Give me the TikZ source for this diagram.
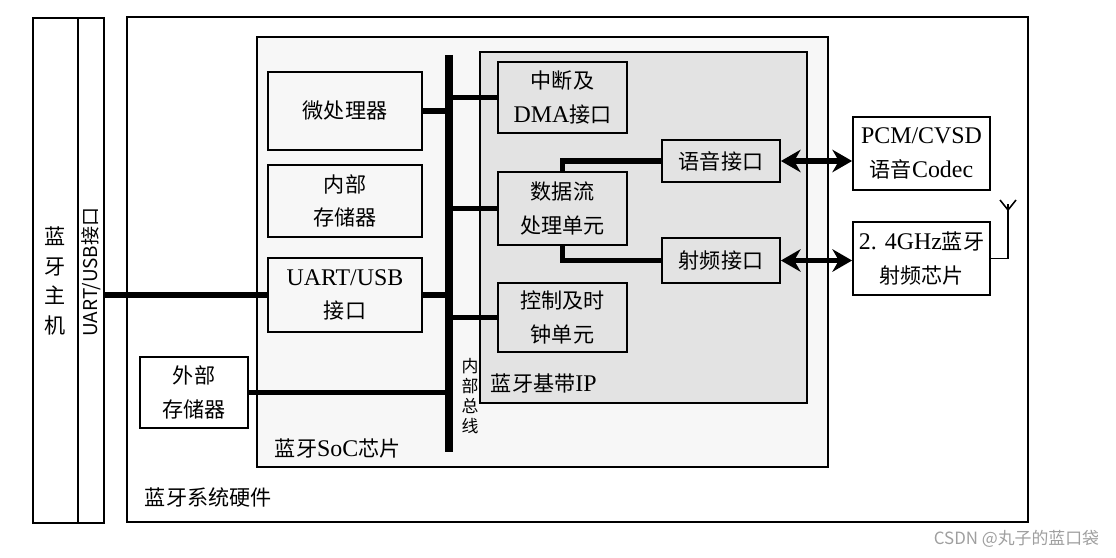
\documentclass[tikz,border=0pt]{standalone}
\usepackage{fontspec}
\setmainfont{Noto Sans CJK SC}
\newfontfamily\en{Liberation Serif}
\usetikzlibrary{arrows.meta,fit}

\tikzset{
	frame/.style={draw, line width=1.1pt, inner sep=0pt},
	unit/.style={draw, line width=1.3pt, inner sep=0pt},
	ipunit/.style={unit, fill=gray!22},
	socunit/.style={unit, fill=gray!6},
	txt/.style={align=center, inner sep=0pt, font=\fontsize{15}{24}\selectfont},
	tag/.style={anchor=west, font=\fontsize{15}{18}\selectfont},
	link/.style={line width=4pt},
	duplex/.style={line width=4pt, {Stealth[length=14pt,width=16pt]}-{Stealth[length=14pt,width=16pt]}},
}
\newcommand\lat[1]{{\en\fontsize{17}{24}\selectfont #1}}

\begin{document}
\begin{tikzpicture}[x=0.025cm,y=-0.025cm]
	\useasboundingbox (0,0) rectangle (1116,558);
	% host side
	\node[frame, fit={(33,18)(78,523)}] (host) {};
	\node[frame, fit={(78,18)(104,523)}] (hostport) {};
	\node[align=center, font=\fontsize{15}{21}\selectfont] (hostlabel) at (55,281) {蓝\\牙\\主\\机};
	\node[rotate=90, font=\fontsize{13.5}{15}\selectfont] (portlabel) at (91,272) {UART/USB接口};
	% containers
	\node[frame, fit={(127,17)(1028,522)}] (hw) {};
	\node[frame, fill=gray!6, fit={(257,37)(828,467)}] (soc) {};
	\node[frame, line width=1.3pt, fill=gray!22, fit={(480,52)(807,403)}] (ip) {};
	\node[tag] (hwlabel) at (140,497) {蓝牙系统硬件};
	\node[tag] (soclabel) at (270,448) {蓝牙\lat{SoC}芯片};
	\node[tag] (iplabel) at (486,383) {蓝牙基带\lat{IP}};
	% SoC units
	\node[socunit, fit={(268,72)(422,150)}] (cpu) {};
	\node[socunit, fit={(268,165)(422,237)}] (iram) {};
	\node[socunit, fit={(268,258)(422,332)}] (uart) {};
	\node[unit, fill=white, fit={(140,357)(248,428)}] (xram) {};
	\node[txt] at (cpu) {微处理器};
	\node[txt] at (iram) {内部\\存储器};
	\node[txt] at (uart) {\lat{UART/USB}\\接口};
	\node[txt] at (xram) {外部\\存储器};
	% baseband units
	\node[ipunit, fit={(498,62)(627,133)}] (dma) {};
	\node[ipunit, fit={(498,172)(627,245)}] (flow) {};
	\node[ipunit, fit={(498,283)(627,352)}] (clk) {};
	\node[ipunit, fit={(662,140)(780,182)}] (voice) {};
	\node[ipunit, fit={(662,238)(780,283)}] (rfif) {};
	\node[txt] at (dma) {中断及\\\lat{DMA}接口};
	\node[txt] at (flow) {数据流\\处理单元};
	\node[txt] at (clk) {控制及时\\钟单元};
	\node[txt] at (voice) {语音接口};
	\node[txt] at (rfif) {射频接口};
	% external chips
	\node[unit, fill=white, fit={(853,117)(990,190)}] (codec) {};
	\node[unit, fill=white, fit={(853,222)(990,295)}] (rfchip) {};
	\node[txt] at (codec) {\lat{PCM/CVSD}\\语音\lat{Codec}};
	\node[txt] at (rfchip) {\lat{2. 4GHz}蓝牙\\射频芯片};
	% internal bus
	\coordinate (bustop) at (449,55);
	\coordinate (busbot) at (449,452);
	\draw[line width=5pt] (bustop) -- (busbot);
	\node[align=center, font=\fontsize{12}{14.2}\selectfont] (buslabel) at (470,396) {内\\部\\总\\线};
	% links
	\draw[link] (hostport.east |- uart.west) -- (uart.west);
	\draw[link] (cpu.east) -- (cpu.east -| bustop);
	\draw[link] (uart.east) -- (uart.east -| bustop);
	\draw[link] (xram.east) -- (xram.east -| bustop);
	\draw[link] (dma.west -| bustop) -- (dma.west);
	\draw[link] (flow.west -| bustop) -- (flow.west);
	\draw[link] (clk.west -| bustop) -- (clk.west);
	\draw[link] (flow.north) |- (voice.west);
	\draw[link] (flow.south) |- (rfif.west);
	\draw[duplex] (voice.east) -- (voice.east -| codec.west);
	\draw[duplex] (rfif.east) -- (rfif.east -| rfchip.west);
	% antenna
	\coordinate (ant) at (1008,210);
	\draw[line width=1.2pt] (rfchip.east) -| (ant) -- +(0,-6);
	\draw[line width=1.1pt] (ant) -- +(-8,-10) (ant) -- +(8,-10);
	% watermark
	\node[anchor=east, text=gray!75, font=\fontsize{12}{14}\selectfont] (mark) at (1104,539) {CSDN @丸子的蓝口袋};
\end{tikzpicture}
\end{document}
